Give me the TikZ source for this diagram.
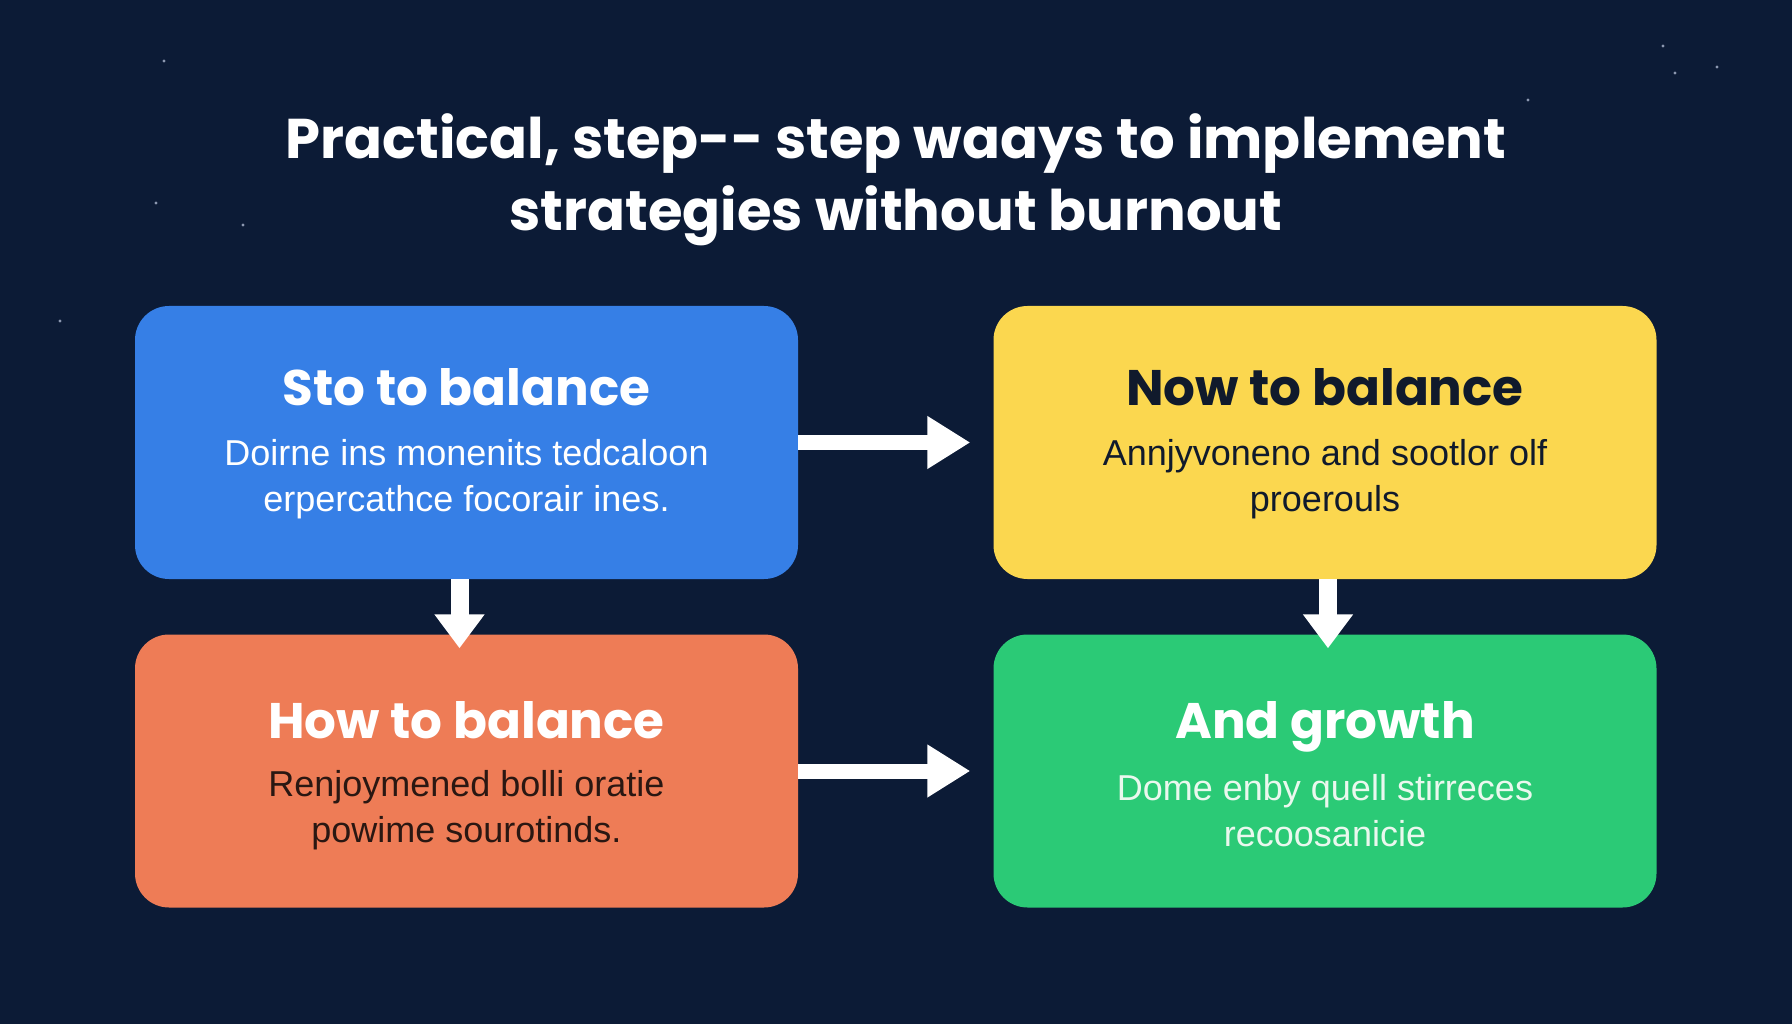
\documentclass[tikz,border=0pt]{standalone}
\usepackage{fontspec}
\setmainfont{Liberation Sans}
\newfontfamily\headfont{Poppins}
\usetikzlibrary{arrows.meta}
\definecolor{bgnavy}{HTML}{0C1B36}
\definecolor{cblue}{HTML}{367FE6}
\definecolor{cyellow}{HTML}{FBD74F}
\definecolor{corange}{HTML}{EE7C56}
\definecolor{cgreen}{HTML}{2BCA76}
\definecolor{darktext}{HTML}{101A2C}
\definecolor{orangetext}{HTML}{2A1712}
\definecolor{greentext}{HTML}{EAF8EE}
\definecolor{stardot}{HTML}{8C98B0}
\tikzset{
  card/.style={rounded corners=34pt, minimum width=663pt, minimum height=273pt, inner sep=0pt, draw=none},
  titletext/.style={text=white, align=center, font=\headfont\bfseries\fontsize{56}{72}\selectfont},
  headtext/.style={anchor=base, font=\headfont\bfseries\fontsize{50}{56}\selectfont},
  bodytext/.style={align=center, font=\fontsize{36}{46}\selectfont},
  harr/.style={draw=white, line width=15pt, -{Triangle[width=50pt,length=43pt]}},
  varr/.style={draw=white, line width=18pt, -{Triangle[width=48pt,length=34pt]}},
  stardotstyle/.style={fill=stardot}
}
\begin{document}
\begin{tikzpicture}[x=1pt,y=-1pt]
\fill[bgnavy] (0,0) rectangle (1792,1024);
\useasboundingbox (0,0) rectangle (1792,1024);
% stars
\foreach \sx/\sy in {164/61, 156/203, 243/225, 60/321, 1528/100, 1663/46, 1717/67, 1675/73}
  \fill[stardotstyle] (\sx,\sy) circle (1.6pt);
% title
\node[titletext] (title) at (896,180) {Practical, step{-}{-} step waays to implement\\strategies without burnout};
% cards
\node[card, fill=cblue]   (blue)   at (466.5,442.5) {};
\node[card, fill=cyellow] (yellow) at (1325,442.5) {};
\node[card, fill=corange] (orange) at (466.5,771) {};
\node[card, fill=cgreen]  (green)  at (1325,771) {};
% headings
\node[headtext, text=white]    (h1) at ([yshift=-100pt]blue.north)   {Sto to balance};
\node[headtext, text=darktext] (h2) at ([yshift=-100pt]yellow.north) {Now to balance};
\node[headtext, text=white]    (h3) at ([yshift=-104pt]orange.north) {How to balance};
\node[headtext, text=white]    (h4) at ([yshift=-104pt]green.north)  {And growth};
% bodies
\node[bodytext, text=white]      (b1) at ([yshift=-173pt]blue.north)   {Doirne ins monenits tedcaloon\\erpercathce focorair ines.};
\node[bodytext, text=darktext]   (b2) at ([yshift=-173pt]yellow.north) {Annjyvoneno and sootlor olf\\proerouls};
\node[bodytext, text=orangetext] (b3) at ([yshift=-176pt]orange.north) {Renjoymened bolli oratie\\powime sourotinds.};
\node[bodytext, text=greentext]  (b4) at ([yshift=-176pt]green.north)  {Dome enby quell stirreces\\recoosanicie};
% connectors
\draw[harr, shorten >=23pt] (blue.east) -- (yellow.west);
\draw[harr, shorten >=23pt] (orange.east) -- (green.west);
\draw[varr, shorten >=-14pt] ([xshift=-7pt]blue.south) -- ([xshift=-7pt]orange.north);
\draw[varr, shorten >=-14pt] ([xshift=3pt]yellow.south) -- ([xshift=3pt]green.north);
\end{tikzpicture}
\end{document}
